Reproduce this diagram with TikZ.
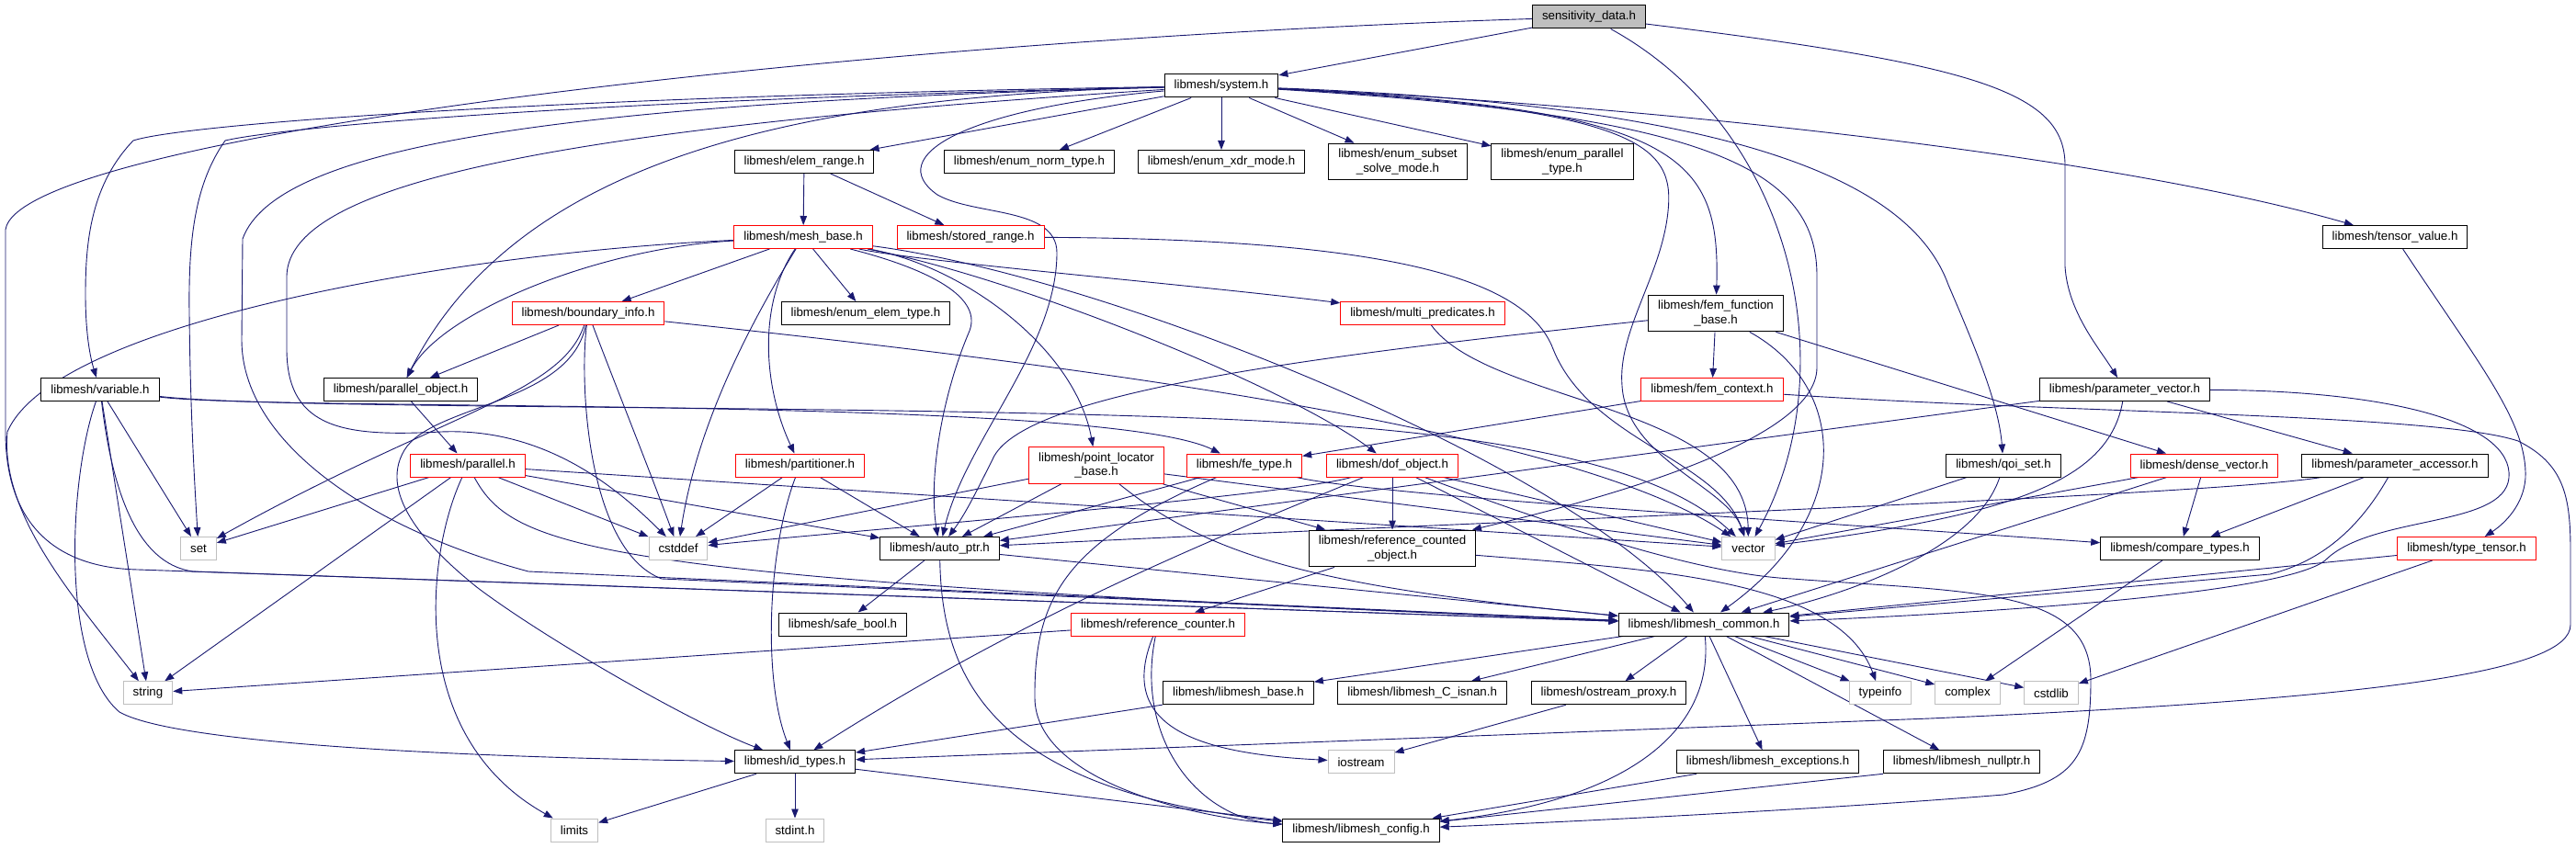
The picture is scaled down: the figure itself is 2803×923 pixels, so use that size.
\documentclass[tikz,border=0pt]{standalone}
\usepackage{fontspec}
\setmainfont{Liberation Sans}
\usetikzlibrary{arrows.meta}
\definecolor{edgeblue}{HTML}{191970}
\definecolor{boxgray}{HTML}{BFBFBF}
\pgfdeclarelayer{bg}
\pgfsetlayers{bg,main}

\begin{document}
\begin{tikzpicture}[x=1pt, y=-1pt,
  file/.style={draw, line width=1pt, fill=white, inner xsep=10.5pt, inner ysep=6pt,
               minimum height=25pt, align=center, font=\fontsize{13.3}{15.5}\selectfont},
  box/.style={file, draw=black},
  redbox/.style={file, draw=red},
  sysbox/.style={file, draw=boxgray},
  rootbox/.style={file, draw=black, fill=boxgray},
  arr/.style={-{Triangle[length=10pt,width=7.5pt]}, draw=edgeblue, line width=0.9pt}
]
\useasboundingbox (0,0) rectangle (2803,923);

% files, row by row
\node[rootbox] (sens) at (1729,18.5) {sensitivity\_data.h};
\node[box] (system) at (1329,93.5) {libmesh/system.h};
\node[box] (elemrange) at (875,176) {libmesh/elem\_range.h};
\node[box] (enumnorm) at (1120,176) {libmesh/enum\_norm\_type.h};
\node[box] (enumxdr) at (1329,176) {libmesh/enum\_xdr\_mode.h};
\node[box] (enumsubset) at (1521,176) {libmesh/enum\_subset\\\_solve\_mode.h};
\node[box] (enumparallel) at (1700,176) {libmesh/enum\_parallel\\\_type.h};
\node[box] (tensorvalue) at (2606,258) {libmesh/tensor\_value.h};
\node[redbox] (meshbase) at (874,258) {libmesh/mesh\_base.h};
\node[redbox] (storedrange) at (1056,258) {libmesh/stored\_range.h};
\node[redbox] (boundary) at (640,341) {libmesh/boundary\_info.h};
\node[box] (enumelem) at (942,341) {libmesh/enum\_elem\_type.h};
\node[redbox] (multipred) at (1548,341) {libmesh/multi\_predicates.h};
\node[box] (femfunc) at (1867,341) {libmesh/fem\_function\\\_base.h};
\node[box] (variable) at (109,424) {libmesh/variable.h};
\node[box] (parobj) at (436,424) {libmesh/parallel\_object.h};
\node[redbox] (femcontext) at (1863,424) {libmesh/fem\_context.h};
\node[box] (paramvec) at (2312,424) {libmesh/parameter\_vector.h};
\node[redbox] (parallel) at (509,506.5) {libmesh/parallel.h};
\node[redbox] (partitioner) at (870.5,506.5) {libmesh/partitioner.h};
\node[redbox] (pointloc) at (1193,506.5) {libmesh/point\_locator\\\_base.h};
\node[redbox] (fetype) at (1354,506.5) {libmesh/fe\_type.h};
\node[redbox] (dofobject) at (1515,506.5) {libmesh/dof\_object.h};
\node[box] (qoiset) at (2180,506.5) {libmesh/qoi\_set.h};
\node[redbox] (densevec) at (2398.5,506.5) {libmesh/dense\_vector.h};
\node[box] (paramacc) at (2606,506.5) {libmesh/parameter\_accessor.h};
\node[sysbox] (set) at (216,597) {set};
\node[sysbox] (cstddef) at (738,597) {cstddef};
\node[box] (autoptr) at (1022.5,597) {libmesh/auto\_ptr.h};
\node[box] (refcounted) at (1515,597) {libmesh/reference\_counted\\\_object.h};
\node[sysbox] (vector) at (1902.5,597) {vector};
\node[box] (comparetypes) at (2372,597) {libmesh/compare\_types.h};
\node[redbox] (typetensor) at (2684,597) {libmesh/type\_tensor.h};
\node[box] (safebool) at (917,679.5) {libmesh/safe\_bool.h};
\node[redbox] (refcounter) at (1260,679.5) {libmesh/reference\_counter.h};
\node[box] (common) at (1854,679.5) {libmesh/libmesh\_common.h};
\node[sysbox] (string) at (161,754.3) {string};
\node[box] (lmbase) at (1347.5,754.3) {libmesh/libmesh\_base.h};
\node[box] (isnan) at (1547.6,754.3) {libmesh/libmesh\_C\_isnan.h};
\node[box] (ostream) at (1750.4,754.3) {libmesh/ostream\_proxy.h};
\node[sysbox] (typeinfo) at (2046,754.3) {typeinfo};
\node[sysbox] (complex) at (2141,754.3) {complex};
\node[sysbox] (cstdlib) at (2232,754.3) {cstdlib};
\node[box] (idtypes) at (865,829.3) {libmesh/id\_types.h};
\node[sysbox] (iostream) at (1481,829.3) {iostream};
\node[box] (exceptions) at (1923.6,829.3) {libmesh/libmesh\_exceptions.h};
\node[box] (nullptr) at (2134.5,829.3) {libmesh/libmesh\_nullptr.h};
\node[sysbox] (limits) at (625,903.5) {limits};
\node[sysbox] (stdint) at (865,903.5) {stdint.h};
\node[box] (config) at (1481,903.5) {libmesh/libmesh\_config.h};

\begin{pgfonlayer}{bg}
\fill[white] (0,0) rectangle (2803,923);
% sensitivity_data.h
\draw[arr] (sens) -- (system);
\draw[arr] (sens) .. controls (900,45) and (20,150) .. (6,250) -- (6,470) .. controls (6,570) and (60,618) .. (150,620) -- (common);
\draw[arr] (sens) .. controls (1950,140) and (2010,400) .. (vector);
\draw[arr] (sens) .. controls (2150,70) and (2247,100) .. (2247,180) -- (2247,290) .. controls (2250,340) and (2285,380) .. (paramvec);
% system.h
\draw[arr] (system) -- (elemrange);
\draw[arr] (system) -- (enumnorm);
\draw[arr] (system) -- (enumxdr);
\draw[arr] (system) -- (enumsubset);
\draw[arr] (system) -- (enumparallel);
\draw[arr] (system) .. controls (1800,115) and (2300,170) .. (tensorvalue);
\draw[arr] (system) .. controls (1830,118) and (1872,170) .. (femfunc);
\draw[arr] (system) .. controls (1790,118) and (1822,160) .. (1815,230) .. controls (1808,300) and (1760,360) .. (1765,420) .. controls (1770,500) and (1880,530) .. (vector);
\draw[arr] (system) .. controls (1850,125) and (1977,180) .. (1977,300) -- (1977,400) .. controls (1977,470) and (1800,530) .. (refcounted);
\draw[arr] (system) .. controls (1900,115) and (2080,200) .. (2120,310) .. controls (2150,380) and (2175,440) .. (qoiset);
\draw[arr] (system) .. controls (600,105) and (200,135) .. (145,153) .. controls (100,200) and (93,260) .. (93,320) .. controls (93,370) and (100,395) .. (variable);
\draw[arr] (system) .. controls (600,110) and (300,140) .. (245,153) .. controls (212,200) and (205,260) .. (206,340) .. controls (207,450) and (212,530) .. (set);
\draw[arr] (system) .. controls (600,112) and (300,160) .. (264,260) -- (263,370) .. controls (263,480) and (400,575) .. (575,622) -- (common);
\draw[arr] (system) .. controls (600,140) and (315,200) .. (312,300) -- (312,380) .. controls (312,470) and (380,475) .. (480,470) .. controls (600,465) and (680,540) .. (cstddef);
\draw[arr] (system) .. controls (850,105) and (560,180) .. (parobj);
\draw[arr] (system) .. controls (1050,118) and (960,170) .. (1020,212) .. controls (1060,235) and (1150,225) .. (1150,275) .. controls (1150,380) and (1050,480) .. (autoptr);
% elem_range.h
\draw[arr] (elemrange) -- (meshbase);
\draw[arr] (elemrange) -- (storedrange);
% mesh_base.h
\draw[arr] (meshbase) .. controls (500,275) and (60,350) .. (8,470) .. controls (0,560) and (80,650) .. (string);
\draw[arr] (meshbase) .. controls (650,270) and (480,340) .. (parobj);
\draw[arr] (meshbase) -- (boundary);
\draw[arr] (meshbase) -- (enumelem);
\draw[arr] (meshbase) .. controls (825,330) and (830,420) .. (partitioner);
\draw[arr] (meshbase) .. controls (830,330) and (760,450) .. (cstddef);
\draw[arr] (meshbase) .. controls (1000,290) and (1070,320) .. (1055,360) .. controls (1025,430) and (1010,520) .. (autoptr);
\draw[arr] (meshbase) .. controls (1050,290) and (1170,380) .. (pointloc);
\draw[arr] (meshbase) .. controls (1100,300) and (1400,420) .. (dofobject);
\draw[arr] (meshbase) .. controls (1200,300) and (1700,500) .. (common);
\draw[arr] (meshbase) .. controls (1000,285) and (1300,310) .. (multipred);
% stored_range.h
\draw[arr] (storedrange) .. controls (1500,260) and (1660,300) .. (1690,380) .. controls (1730,480) and (1870,500) .. (vector);
% boundary_info.h
\draw[arr] (boundary) -- (parobj);
\draw[arr] (boundary) .. controls (610,430) and (480,450) .. (set);
\draw[arr] (boundary) .. controls (620,440) and (470,440) .. (440,490) .. controls (410,540) and (470,600) .. (520,640) .. controls (600,700) and (760,790) .. (idtypes);
\draw[arr] (boundary) .. controls (630,420) and (640,600) .. (720,630) -- (common);
\draw[arr] (boundary) .. controls (670,420) and (710,520) .. (cstddef);
\draw[arr] (boundary) .. controls (1100,390) and (1700,460) .. (vector);
% parallel_object.h, parallel.h
\draw[arr] (parobj) -- (parallel);
\draw[arr] (parallel) -- (set);
\draw[arr] (parallel) -- (string);
\draw[arr] (parallel) .. controls (465,600) and (440,800) .. (limits);
\draw[arr] (parallel) .. controls (560,600) and (650,630) .. (common);
\draw[arr] (parallel) -- (cstddef);
\draw[arr] (parallel) -- (autoptr);
\draw[arr] (parallel) -- (vector);
% partitioner.h
\draw[arr] (partitioner) -- (cstddef);
\draw[arr] (partitioner) .. controls (835,600) and (830,740) .. (idtypes);
\draw[arr] (partitioner) -- (autoptr);
% point_locator_base.h
\draw[arr] (pointloc) -- (cstddef);
\draw[arr] (pointloc) -- (autoptr);
\draw[arr] (pointloc) .. controls (1320,610) and (1450,640) .. (common);
\draw[arr] (pointloc) -- (refcounted);
\draw[arr] (pointloc) -- (vector);
% fe_type.h
\draw[arr] (fetype) -- (autoptr);
\draw[arr] (fetype) .. controls (1160,590) and (1125,650) .. (1126,760) .. controls (1127,850) and (1300,890) .. (config);
\draw[arr] (fetype) .. controls (1500,540) and (2000,570) .. (comparetypes);
% dof_object.h
\draw[arr] (dofobject) -- (refcounted);
\draw[arr] (dofobject) -- (common);
\draw[arr] (dofobject) .. controls (1350,575) and (1130,660) .. (idtypes);
\draw[arr] (dofobject) -- (vector);
\draw[arr] (dofobject) .. controls (1400,540) and (900,580) .. (cstddef);
\draw[arr] (dofobject) .. controls (1700,575) and (1850,625) .. (1950,630) .. controls (2150,645) and (2275,640) .. (2275,740) .. controls (2275,820) and (2260,850) .. (2180,865) .. controls (2000,880) and (1700,895) .. (config);
% reference counting
\draw[arr] (refcounted) -- (refcounter);
\draw[arr] (refcounted) .. controls (1800,620) and (2000,630) .. (typeinfo);
\draw[arr] (refcounter) -- (string);
\draw[arr] (refcounter) .. controls (1215,790) and (1300,820) .. (iostream);
\draw[arr] (refcounter) .. controls (1235,800) and (1300,890) .. (config);
% auto_ptr.h
\draw[arr] (autoptr) -- (safebool);
\draw[arr] (autoptr) .. controls (1025,740) and (1080,860) .. (config);
\draw[arr] (autoptr) -- (common);
% libmesh_common.h
\draw[arr] (common) -- (lmbase);
\draw[arr] (common) -- (isnan);
\draw[arr] (common) -- (ostream);
\draw[arr] (common) .. controls (1865,790) and (1780,870) .. (config);
\draw[arr] (common) -- (exceptions);
\draw[arr] (common) -- (nullptr);
\draw[arr] (common) -- (typeinfo);
\draw[arr] (common) -- (complex);
\draw[arr] (common) -- (cstdlib);
% bottom rows
\draw[arr] (lmbase) -- (idtypes);
\draw[arr] (ostream) -- (iostream);
\draw[arr] (idtypes) -- (limits);
\draw[arr] (idtypes) -- (stdint);
\draw[arr] (idtypes) -- (config);
\draw[arr] (exceptions) -- (config);
\draw[arr] (nullptr.south west) -- (config);
% tensors, parameters, vectors
\draw[arr] (tensorvalue) .. controls (2700,400) and (2750,460) .. (2748,520) .. controls (2746,550) and (2725,570) .. (typetensor);
\draw[arr] (typetensor) -- (common);
\draw[arr] (typetensor) -- (cstdlib);
\draw[arr] (comparetypes) -- (complex);
\draw[arr] (paramvec) -- (paramacc);
\draw[arr] (paramvec) -- (autoptr);
\draw[arr] (paramvec) .. controls (2295,520) and (2200,560) .. (vector);
\draw[arr] (paramvec) .. controls (2600,425) and (2735,460) .. (2730,520) .. controls (2725,575) and (2580,560) .. (2530,610) .. controls (2480,650) and (2100,670) .. (common);
\draw[arr] (paramacc) -- (comparetypes);
\draw[arr] (paramacc) .. controls (2570,570) and (2530,610) .. (2470,625) -- (common);
\draw[arr] (paramacc) .. controls (2400,540) and (1600,568) .. (autoptr);
\draw[arr] (densevec) -- (vector);
\draw[arr] (densevec) -- (comparetypes);
\draw[arr] (densevec) -- (common);
\draw[arr] (qoiset) -- (vector);
\draw[arr] (qoiset) .. controls (2150,600) and (2000,650) .. (common);
% fem_function_base.h, fem_context.h, multi_predicates.h
\draw[arr] (femfunc) -- (femcontext);
\draw[arr] (femfunc) .. controls (1400,390) and (1110,430) .. (1080,500) .. controls (1060,540) and (1050,560) .. (autoptr);
\draw[arr] (femfunc) .. controls (2010,420) and (2020,560) .. (common);
\draw[arr] (femfunc) -- (densevec);
\draw[arr] (femcontext) -- (fetype);
\draw[arr] (femcontext) .. controls (2250,450) and (2650,450) .. (2740,480) .. controls (2790,505) and (2797,540) .. (2797,600) -- (2797,680) .. controls (2797,730) and (2600,760) .. (2100,782) -- (idtypes);
\draw[arr] (multipred) .. controls (1620,440) and (1900,440) .. (vector);
% variable.h
\draw[arr] (variable) .. controls (300,448) and (1200,430) .. (fetype);
\draw[arr] (variable) .. controls (300,446) and (900,440) .. (1300,455) .. controls (1600,466) and (1800,500) .. (vector);
\draw[arr] (variable) -- (set);
\draw[arr] (variable) -- (string);
\draw[arr] (variable) .. controls (75,520) and (65,720) .. (130,775) .. controls (200,815) and (600,826) .. (idtypes);
\draw[arr] (variable) .. controls (125,560) and (160,615) .. (210,622) -- (common);
\end{pgfonlayer}
\end{tikzpicture}
\end{document}
